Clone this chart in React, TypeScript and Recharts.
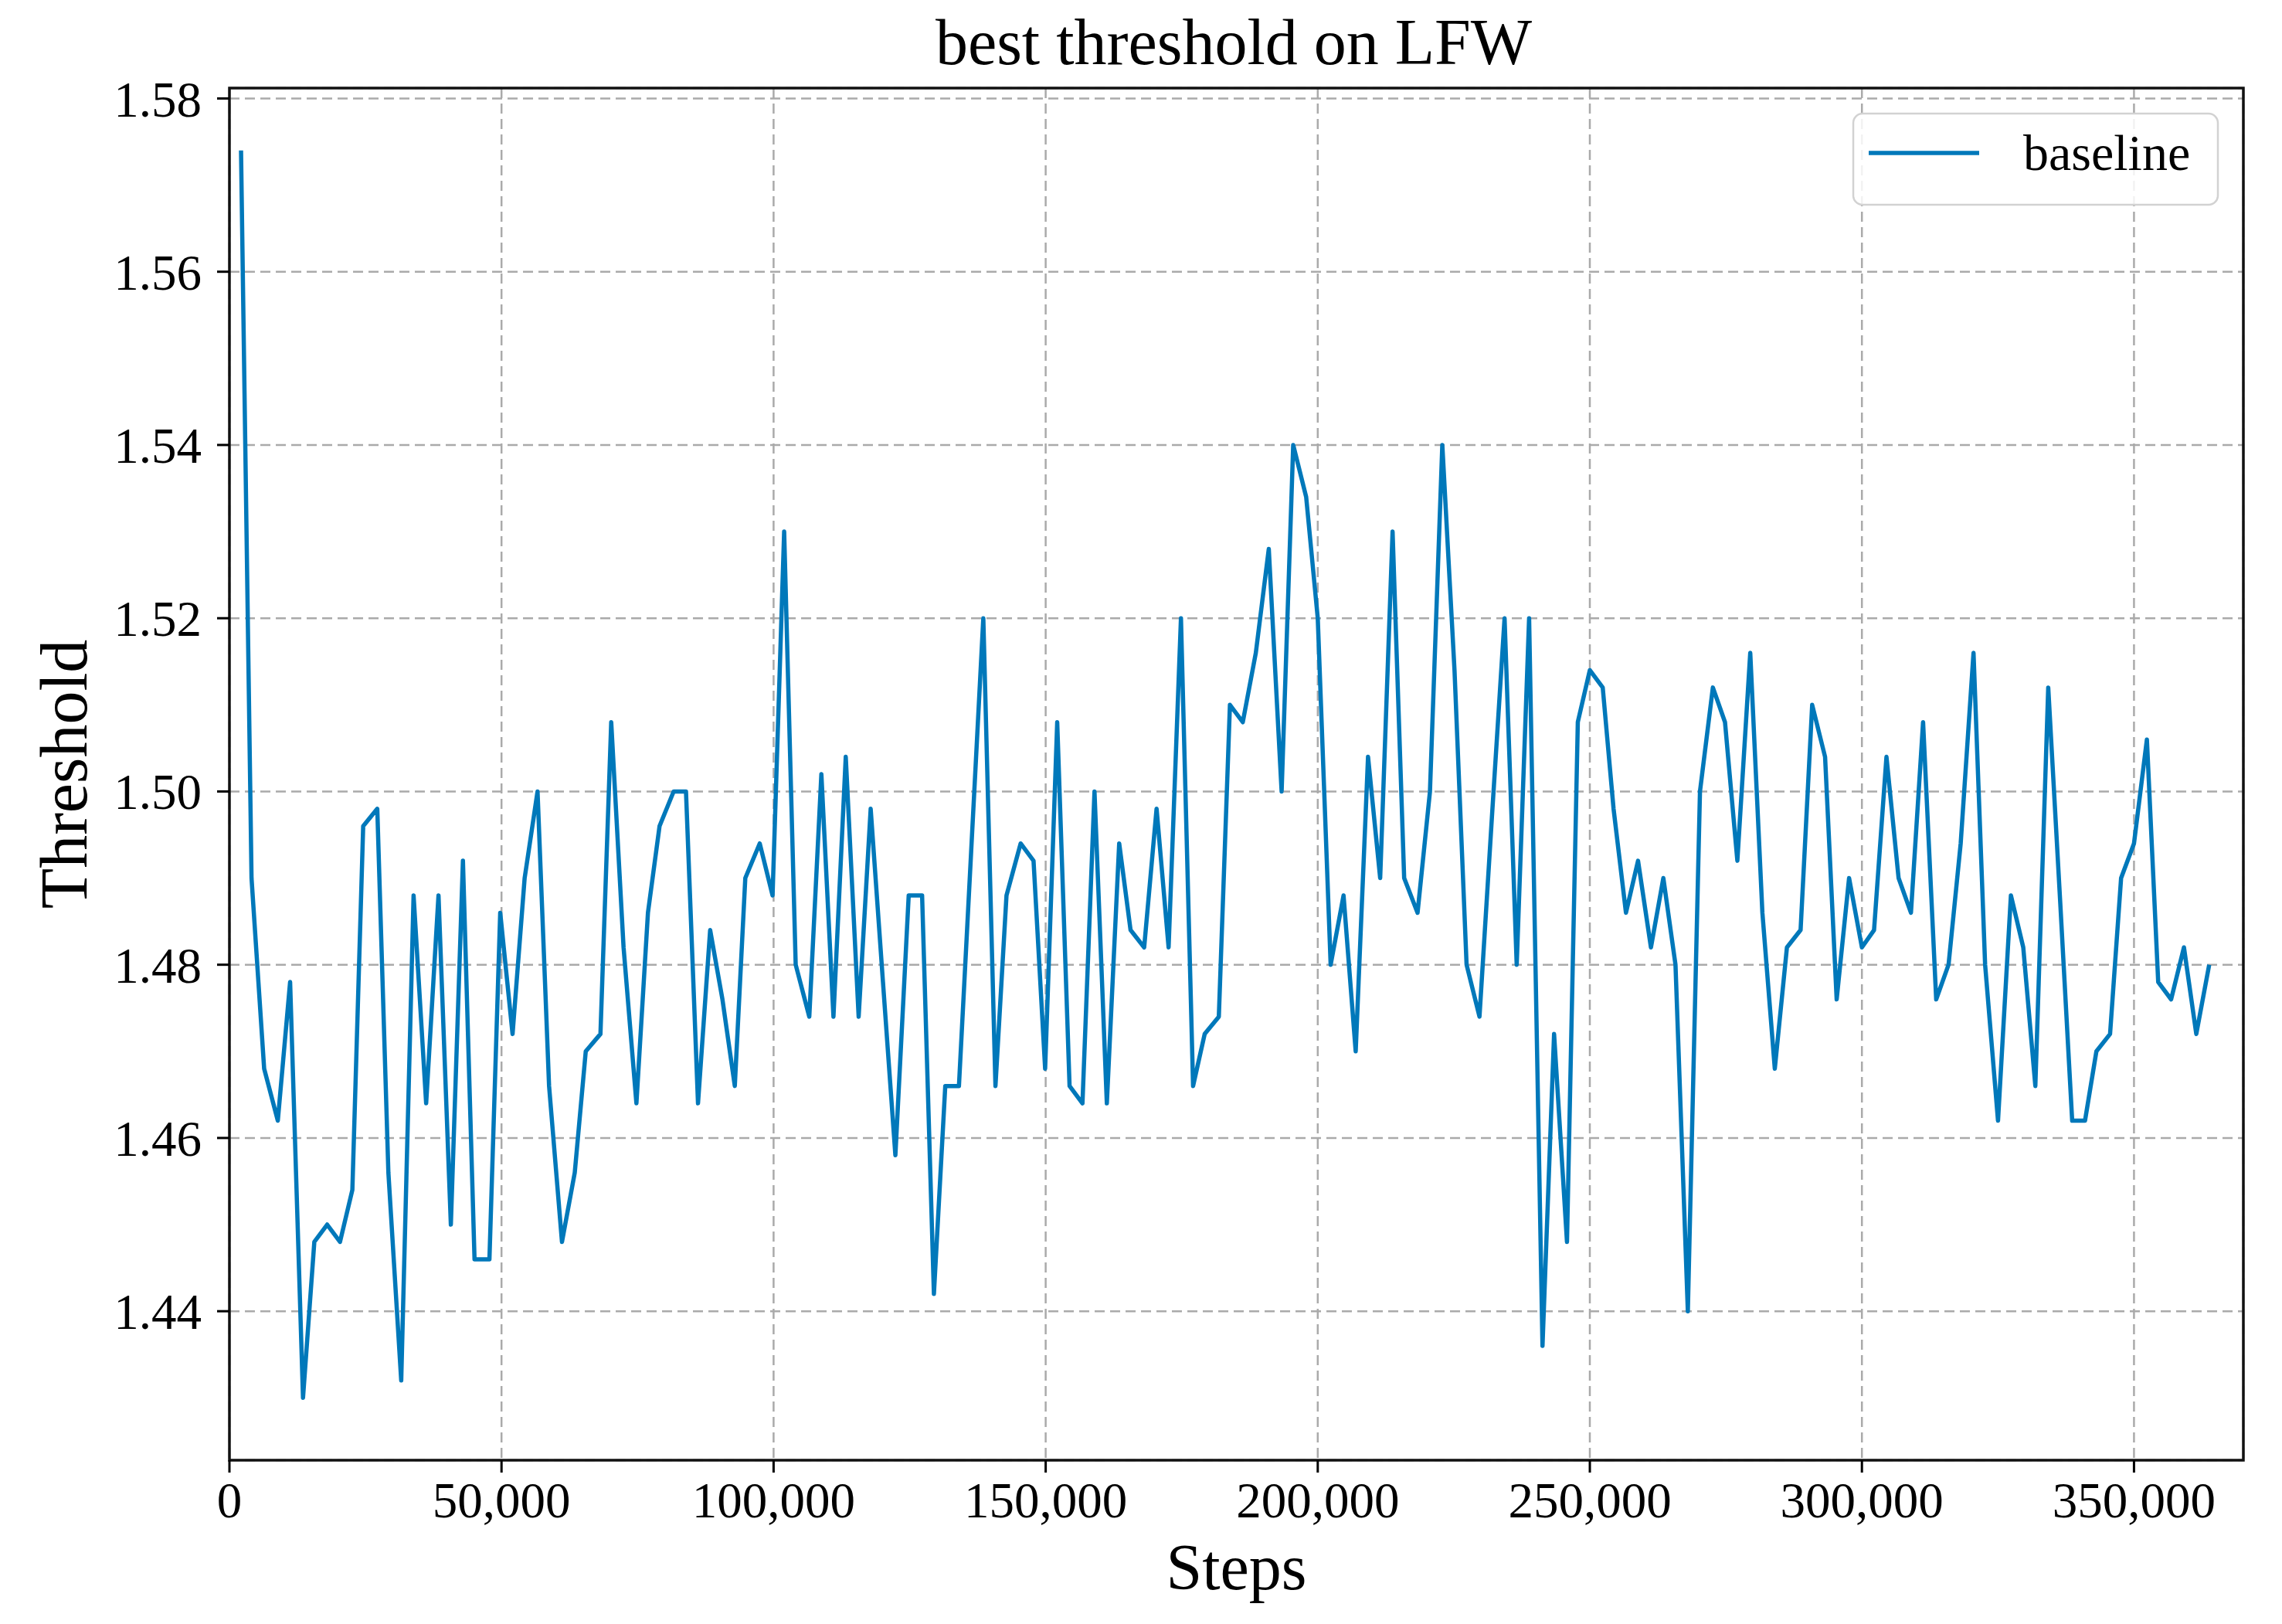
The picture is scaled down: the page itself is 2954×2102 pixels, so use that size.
import {
  LineChart,
  Line,
  XAxis,
  YAxis,
  CartesianGrid,
  ReferenceArea,
  Legend,
  Label,
} from "recharts";

const steps = [
  2130, 4060, 6380, 8890, 11150, 13520, 15600, 17960, 20320, 22590,
  24580, 27170, 29210, 31570, 33840, 36150, 38420, 40690, 42910, 45040,
  47780, 49760, 52030, 54250, 56620, 58740, 61110, 63460, 65480, 68180,
  70160, 72430, 74790, 76910, 79040, 81630, 83900, 86110, 88340, 90600,
  92870, 94800, 97450, 99810, 101940, 104060, 106560, 108780, 111000, 113260,
  115630, 117840, 120100, 122380, 124830, 127290, 129460, 131550, 134060, 136300,
  138540, 140770, 142800, 145400, 147770, 149900, 152120, 154390, 156760, 158970,
  161240, 163510, 165600, 168100, 170380, 172590, 174860, 177090, 179220, 181820,
  183860, 186220, 188620, 191000, 193360, 195490, 197870, 200000, 202370, 204740,
  206970, 209240, 211470, 213750, 215880, 218340, 220620, 222890, 225130, 227350,
  229720, 232000, 234330, 236560, 238840, 241300, 243430, 245800, 247790, 250000,
  252370, 254360, 256640, 258860, 261230, 263510, 265740, 268010, 270240, 272610,
  274840, 277110, 279480, 281710, 283990, 286220, 288730, 290860, 293230, 295360,
  297640, 300000, 302230, 304510, 306740, 309010, 311240, 313650, 315920, 318150,
  320510, 322640, 325010, 327380, 329650, 331870, 334240, 336460, 338640, 341000,
  343090, 345600, 347630, 350000, 352370, 354450, 356820, 359180, 361450, 363820,
];

const baseline = [
  1.574, 1.49, 1.468, 1.462, 1.478, 1.43, 1.448, 1.45, 1.448, 1.454,
  1.496, 1.498, 1.456, 1.432, 1.488, 1.464, 1.488, 1.45, 1.492, 1.446,
  1.446, 1.486, 1.472, 1.49, 1.5, 1.466, 1.448, 1.456, 1.47, 1.472,
  1.508, 1.482, 1.464, 1.486, 1.496, 1.5, 1.5, 1.464, 1.484, 1.476,
  1.466, 1.49, 1.494, 1.488, 1.53, 1.48, 1.474, 1.502, 1.474, 1.504,
  1.474, 1.498, 1.478, 1.458, 1.488, 1.488, 1.442, 1.466, 1.466, 1.493,
  1.52, 1.466, 1.488, 1.494, 1.492, 1.468, 1.508, 1.466, 1.464, 1.5,
  1.464, 1.494, 1.484, 1.482, 1.498, 1.482, 1.52, 1.466, 1.472, 1.474,
  1.51, 1.508, 1.516, 1.528, 1.5, 1.54, 1.534, 1.52, 1.48, 1.488,
  1.47, 1.504, 1.49, 1.53, 1.49, 1.486, 1.5, 1.54, 1.514, 1.48,
  1.474, 1.497, 1.52, 1.48, 1.52, 1.436, 1.472, 1.448, 1.508, 1.514,
  1.512, 1.498, 1.486, 1.492, 1.482, 1.49, 1.48, 1.44, 1.5, 1.512,
  1.508, 1.492, 1.516, 1.486, 1.468, 1.482, 1.484, 1.51, 1.504, 1.476,
  1.49, 1.482, 1.484, 1.504, 1.49, 1.486, 1.508, 1.476, 1.48, 1.494,
  1.516, 1.48, 1.462, 1.488, 1.482, 1.466, 1.512, 1.487, 1.462, 1.462,
  1.47, 1.472, 1.49, 1.494, 1.506, 1.478, 1.476, 1.482, 1.472, 1.48,
];

const xTicks = [0, 50000, 100000, 150000, 200000, 250000, 300000, 350000];
const yTicks = [1.44, 1.46, 1.48, 1.5, 1.52, 1.54, 1.56, 1.58];
const xDomain = [0, 370100];
const yDomain = [1.4228, 1.5812];

const data = steps.map((s, i) => ({ step: s, baseline: baseline[i] }));

const FONT = "'Liberation Serif', 'Times New Roman', serif";
const BLUE = "#0078BA";

const renderLegend = (props: any) => {
  const item = props.payload && props.payload[0];
  return (
    <svg width={476} height={122} style={{ display: "block" }}>
      <rect
        x={2}
        y={2}
        width={472}
        height={118}
        rx={12}
        ry={12}
        fill="rgba(255,255,255,0.85)"
        stroke="#d2d2d2"
        strokeWidth={2.5}
      />
      <line x1={22} x2={165} y1={53} y2={53} stroke={BLUE} strokeWidth={5.5} />
      <text x={222} y={75} fontFamily={FONT} fontSize={66} fill="#000">
        {item ? item.value : "baseline"}
      </text>
    </svg>
  );
};

export default function App() {
  return (
    <div style={{ position: "absolute", left: 0, top: 0, width: 2954, height: 2102, background: "#fff" }}>
      <svg
        width={2954}
        height={120}
        style={{ position: "absolute", left: 0, top: 0, pointerEvents: "none" }}
      >
        <text x={1597} y={83} textAnchor="middle" fontFamily={FONT} fontSize={84} fill="#000">
          best threshold on LFW
        </text>
      </svg>
      <LineChart
        width={2954}
        height={2102}
        data={data}
        margin={{ top: 114, right: 50, left: 0, bottom: 0 }}
      >
        <CartesianGrid
          stroke="#aaaaaa"
          strokeWidth={2.5}
          strokeDasharray="13 7"
        />
        <XAxis
          dataKey="step"
          type="number"
          domain={xDomain}
          ticks={xTicks}
          allowDataOverflow
          height={212}
          axisLine={false}
          tickLine={{ stroke: "#000", strokeWidth: 3 }}
          tickSize={16}
          tickMargin={12}
          tick={{ fill: "#000", fontSize: 65, fontFamily: FONT }}
          tickFormatter={(v: number) => v.toLocaleString("en-US")}
          interval={0}
        >
          <Label
            content={(p: any) => {
              const vb = p.viewBox || { x: 297, y: 1890, width: 2607 };
              return (
                <text
                  x={vb.x + vb.width / 2}
                  y={vb.y + 167}
                  textAnchor="middle"
                  fontFamily={FONT}
                  fontSize={84}
                  fill="#000"
                >
                  Steps
                </text>
              );
            }}
          />
        </XAxis>
        <YAxis
          type="number"
          domain={yDomain}
          ticks={yTicks}
          allowDataOverflow
          width={297}
          axisLine={false}
          tickLine={{ stroke: "#000", strokeWidth: 3 }}
          tickSize={16}
          tickMargin={20}
          tick={{ fill: "#000", fontSize: 65, fontFamily: FONT }}
          tickFormatter={(v: number) => v.toFixed(2)}
          interval={0}
        >
          <Label
            content={(p: any) => {
              const vb = p.viewBox || { x: 0, y: 114, width: 297, height: 1776 };
              const cy = vb.y + vb.height / 2;
              return (
                <text
                  x={112}
                  y={cy}
                  transform={`rotate(-90, 112, ${cy})`}
                  textAnchor="middle"
                  fontFamily={FONT}
                  fontSize={86}
                  fill="#000"
                >
                  Threshold
                </text>
              );
            }}
          />
        </YAxis>
        <Legend
          layout="horizontal"
          verticalAlign="middle"
          align="center"
          content={renderLegend}
          wrapperStyle={{ position: "absolute", left: 2397, top: 145, width: 476, height: 122 }}
        />
        <Line
          type="linear"
          dataKey="baseline"
          name="baseline"
          stroke={BLUE}
          strokeWidth={5.5}
          strokeLinejoin="round"
          dot={false}
          activeDot={false}
          isAnimationActive={false}
        />
        <ReferenceArea
          x1={xDomain[0]}
          x2={xDomain[1]}
          y1={yDomain[0]}
          y2={yDomain[1]}
          fill="none"
          stroke="#111"
          strokeWidth={3.5}
          ifOverflow="visible"
        />
      </LineChart>
    </div>
  );
}
